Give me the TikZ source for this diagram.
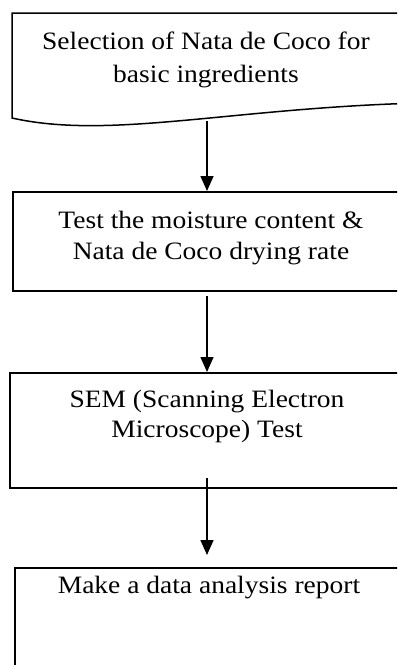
\documentclass[tikz,border=0pt]{standalone}
\usepackage{fontspec}
\setmainfont[FakeStretch=1.1]{Liberation Serif}
\usetikzlibrary{arrows.meta}

\tikzset{
  stepbox/.style={draw=black, line width=0.75pt, inner sep=0pt, anchor=north west},
  label/.style={align=center, inner sep=0pt, anchor=north},
  flow/.style={line width=0.75pt, -{Triangle[width=6.5pt,length=7.5pt]}},
}
\newcommand{\labelsize}[1]{\fontsize{12.5}{#1}\selectfont}

\begin{document}
\begin{tikzpicture}[x=0.5pt,y=-0.5pt]
\useasboundingbox (0,0) rectangle (397,665);
\clip (0,0) rectangle (397,665);

% document-shaped first step with a wavy lower edge
\draw[line width=0.75pt, line join=miter]
  (420,103) -- (420,13) -- (12,13) -- (12,118)
  .. controls (110,140) and (230,108) .. (420,103);
\coordinate (w1) at (207,121);
\node[label, font=\labelsize{16.7pt}] (t1) at (206,31.2) {Selection of Nata de Coco for\\basic ingredients};

% remaining process steps
\node[stepbox, minimum width=204pt, minimum height=49.5pt] (b2) at (12,191) {};
\node[label, font=\labelsize{15.8pt}] (t2) at (211,210.6) {Test the moisture content \&\\Nata de Coco drying rate};

\node[stepbox, minimum width=205.5pt, minimum height=57.5pt] (b3) at (9,372) {};
\node[label, font=\labelsize{15pt}] (t3) at (207,389.6) {SEM (Scanning Electron\\Microscope) Test};

\node[stepbox, minimum width=203pt, minimum height=66.5pt] (b4) at (14,567) {};
\node[label, font=\labelsize{15pt}] (t4) at (209,576.2) {Make a data analysis report};

% connectors
\coordinate (s2) at (207,296);
\coordinate (s3) at (207,478);
\coordinate (e3) at (207,555);
\draw[flow] (w1) -- (w1 |- b2.north);
\draw[flow] (s2) -- (s2 |- b3.north);
\draw[flow] (s3) -- (e3);
\end{tikzpicture}
\end{document}
